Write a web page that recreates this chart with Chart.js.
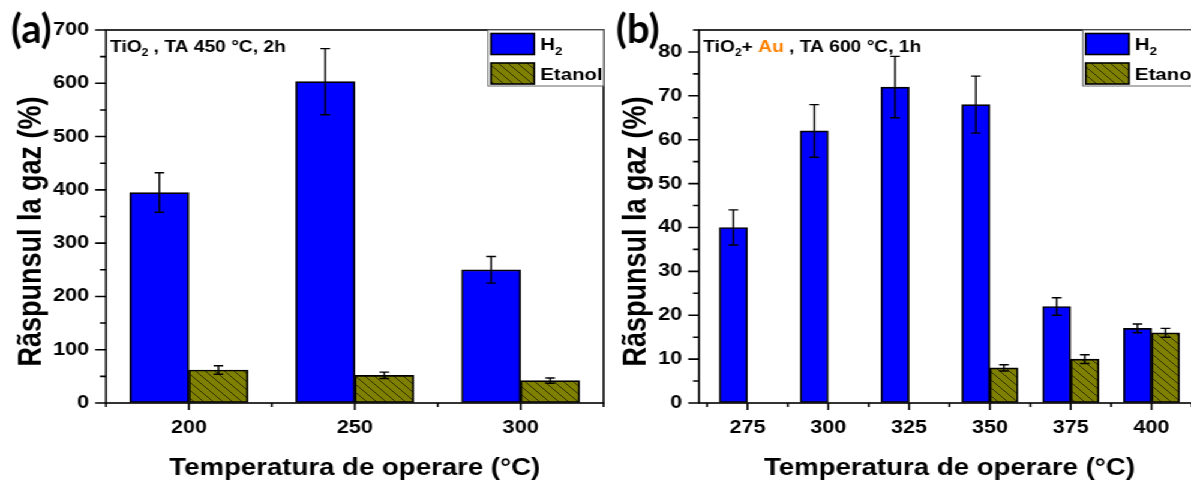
<!DOCTYPE html>
<html>
<head>
<meta charset="utf-8">
<script src="https://cdn.jsdelivr.net/npm/chart.js@4.4.0/dist/chart.umd.min.js"></script>
<style>
  html, body { margin: 0; padding: 0; background: #fff; overflow: hidden; width: 1191px; height: 484px; }
  #wrap { position: absolute; left: 0; top: 0; width: 1010px; height: 484px; transform: scaleX(1.2); transform-origin: 0 0; }
  #c1 { position: absolute; left: 0; top: 0; }
  #c2 { position: absolute; left: 510px; top: 0; }
</style>
</head>
<body>
<div id="wrap">
  <canvas id="c1" width="510" height="484"></canvas>
  <canvas id="c2" width="500" height="484"></canvas>
</div>
<script>
// panel (a): TiO2, TA 450 C, 2h
const tempA = [200, 250, 300];
const h2A = [395, 603, 250];
const h2ErrA = [37, 62, 25];
const etA = [62, 52, 42];
const etErrA = [8, 6, 5];
const yLabelsA = [0, 100, 200, 300, 400, 500, 600, 700];

// panel (b): TiO2 + Au, TA 600 C, 1h
const tempB = [275, 300, 325, 350, 375, 400];
const h2B = [40, 62, 72, 68, 22, 17];
const h2ErrB = [4, 6, 7, 6.5, 2, 1];
const etB = [null, null, null, 8, 10, 16];
const etErrB = [null, null, null, 0.7, 1, 1];
const yLabelsB = [0, 10, 20, 30, 40, 50, 60, 70, 80];

const seriesNames = ['H2', 'Etanol'];
const xTitle = 'Temperatura de operare (°C)';
const yTitle = 'Rãspunsul la gaz (%)';

const SX = 1.2; // the figure is stretched horizontally
const FONT = '"Liberation Sans", Arial, sans-serif';

function withMinor(vals) {
  // labelled ticks plus the unlabelled ones half a step before/after
  const step = vals[1] - vals[0];
  const out = [];
  vals.forEach(v => { out.push(v - step / 2, v); });
  out.push(vals[vals.length - 1] + step / 2);
  return out;
}

function hatch() {
  const c = document.createElement('canvas');
  c.width = 8; c.height = 8;
  const g = c.getContext('2d');
  g.fillStyle = '#808000';
  g.fillRect(0, 0, 8, 8);
  g.strokeStyle = '#1a1a00';
  g.lineWidth = 0.8;
  g.beginPath();
  g.moveTo(-2, -2); g.lineTo(10, 10);
  g.moveTo(-2, 6); g.lineTo(2, 10);
  g.moveTo(6, -2); g.lineTo(10, 2);
  g.stroke();
  return g.createPattern(c, 'repeat');
}
const etFill = hatch();

function drawRich(ctx, parts, x, y, size) {
  parts.forEach(p => {
    const fs = p.sub ? Math.round(size * 0.62) : size;
    ctx.font = 'bold ' + fs + 'px ' + FONT;
    ctx.fillStyle = p.color || '#000';
    ctx.textAlign = 'left';
    ctx.textBaseline = 'alphabetic';
    ctx.fillText(p.t, x, y + (p.sub ? size * 0.28 : 0));
    x += ctx.measureText(p.t).width;
  });
}

const decor = {
  id: 'decor',
  afterDatasetsDraw(chart, args, o) {
    const ctx = chart.ctx, ys = chart.scales.y;
    ctx.save();
    ctx.strokeStyle = '#000';
    ctx.lineWidth = 1.4;
    chart.data.datasets.forEach((ds, di) => {
      const meta = chart.getDatasetMeta(di);
      meta.data.forEach((bar, i) => {
        const v = ds.data[i].y, e = o.errs[di][i];
        if (v == null || e == null) return;
        const yt = ys.getPixelForValue(v + e), yb = ys.getPixelForValue(v - e);
        ctx.beginPath();
        ctx.moveTo(bar.x, yt); ctx.lineTo(bar.x, yb);
        ctx.moveTo(bar.x - 4, yt); ctx.lineTo(bar.x + 4, yt);
        ctx.moveTo(bar.x - 4, yb); ctx.lineTo(bar.x + 4, yb);
        ctx.stroke();
      });
    });
    ctx.restore();
  },
  afterDraw(chart, args, o) {
    const ctx = chart.ctx, ca = chart.chartArea;
    const xs = chart.scales.x, ys = chart.scales.y;
    ctx.save();
    ctx.strokeStyle = '#000';
    ctx.lineWidth = 1.6;
    ctx.strokeRect(ca.left, ca.top, ca.right - ca.left, ca.bottom - ca.top);

    // tick marks, long for labelled values
    ctx.beginPath();
    xs.ticks.forEach(t => {
      const px = xs.getPixelForValue(t.value);
      const len = o.xMajor.includes(t.value) ? 7 : 4;
      ctx.moveTo(px, ca.bottom); ctx.lineTo(px, ca.bottom + len);
    });
    ys.ticks.forEach(t => {
      const py = ys.getPixelForValue(t.value);
      const len = o.yMajor.includes(t.value) ? 9 : 5;
      ctx.moveTo(ca.left - len, py); ctx.lineTo(ca.left, py);
    });
    ctx.stroke();

    // legend box
    const lx = o.legendX;
    ctx.fillStyle = '#fff';
    ctx.fillRect(lx, ca.top, ca.right - lx, 56);
    ctx.strokeStyle = '#666';
    ctx.lineWidth = 1;
    ctx.strokeRect(lx, ca.top, ca.right - lx, 56);
    chart.data.datasets.forEach((ds, di) => {
      const sy = ca.top + 3.5 + di * 29.5;
      ctx.fillStyle = ds.backgroundColor;
      ctx.fillRect(lx + 2.5, sy, 36, 21);
      ctx.strokeStyle = '#000';
      ctx.lineWidth = 1.6;
      ctx.strokeRect(lx + 2.5, sy, 36, 21);
      const parts = di === 0 ? [{ t: 'H' }, { t: '2', sub: true }] : [{ t: ds.label }];
      drawRich(ctx, parts, lx + 43.5, ca.top + 20 + di * 30, 17);
    });

    // sample note in the corner
    drawRich(ctx, o.note, o.noteX, 51.5, 16);

    // panel letter, not stretched
    ctx.scale(1 / SX, 1);
    ctx.font = 'bold 40px Lato, "Open Sans", sans-serif';
    ctx.fillStyle = '#000';
    ctx.textAlign = 'left';
    ctx.textBaseline = 'alphabetic';
    ctx.fillText(o.tag, o.tagX, 43);
    ctx.restore();
  }
};

function makeChart(id, p) {
  const xMajor = p.temps;
  const yMajor = p.yLabels;
  const bold = size => ({ family: FONT, size: size, weight: 'bold' });
  return new Chart(document.getElementById(id), {
    type: 'bar',
    data: {
      datasets: [{
        label: seriesNames[0],
        data: p.temps.map((t, i) => ({ x: t, y: p.h2[i] })),
        backgroundColor: '#0000ff',
        borderColor: '#000',
        borderWidth: 1.7,
        borderSkipped: false,
        barThickness: p.barW
      }, {
        label: seriesNames[1],
        data: p.temps.map((t, i) => ({ x: t, y: p.et[i] })),
        backgroundColor: etFill,
        borderColor: '#000',
        borderWidth: 1.7,
        borderSkipped: false,
        barThickness: p.barW
      }]
    },
    options: {
      responsive: false,
      animation: false,
      layout: { padding: { left: 0, right: p.padR, top: 30, bottom: 0 } },
      plugins: {
        legend: { display: false },
        tooltip: { enabled: false },
        decor: {
          errs: [p.h2Err, p.etErr], xMajor: xMajor, yMajor: yMajor,
          legendX: p.legendX, note: p.note, noteX: p.noteX, tag: p.tag, tagX: p.tagX
        }
      },
      scales: {
        x: {
          type: 'linear',
          min: p.xMin,
          max: p.xMax,
          offset: false,
          afterBuildTicks: ax => { ax.ticks = withMinor(xMajor).map(v => ({ value: v })); },
          afterFit: ax => { ax.height = 81; },
          grid: { display: true, drawOnChartArea: false, offset: false, drawTicks: true, tickLength: 7, color: 'rgba(0,0,0,0)' },
          border: { display: false },
          ticks: {
            autoSkip: false, maxRotation: 0, padding: 7, color: '#000', font: bold(18),
            callback: v => xMajor.includes(v) ? String(v) : ''
          },
          title: { display: true, text: xTitle, color: '#000', font: bold(23), padding: { top: 0, bottom: 2 } }
        },
        y: {
          min: 0,
          max: p.yMax,
          afterBuildTicks: ax => {
            const vals = withMinor(yMajor).filter(v => v >= 0 && v <= p.yMax);
            ax.ticks = vals.map(v => ({ value: v }));
          },
          afterFit: ax => { ax.width = p.yW; },
          grid: { display: true, drawOnChartArea: false, drawTicks: true, tickLength: 9, color: 'rgba(0,0,0,0)' },
          border: { display: false },
          ticks: {
            autoSkip: false, padding: 5, color: '#000', font: bold(18),
            callback: v => yMajor.includes(v) ? String(v) : ''
          },
          title: { display: true, text: yTitle + '    ', color: '#000', font: bold(27), padding: { top: p.yTitlePad, bottom: 0 } }
        }
      }
    },
    plugins: [decor]
  });
}

makeChart('c1', {
  temps: tempA, h2: h2A, h2Err: h2ErrA, et: etA, etErr: etErrA, yLabels: yLabelsA,
  xMin: 175, xMax: 325, yMax: 700, barW: 49.2, yW: 88.3, padR: 5, yTitlePad: 10,
  legendX: 406.7, noteX: 91.7, tag: '(a)', tagX: 11,
  note: [{ t: 'TiO' }, { t: '2', sub: true }, { t: ' , TA 450 °C, 2h' }]
});

makeChart('c2', {
  temps: tempB, h2: h2B, h2Err: h2ErrB, et: etB, etErr: etErrB, yLabels: yLabelsB,
  xMin: 260, xMax: 415, yMax: 85, barW: 23.4, yW: 72.5, padR: 10, yTitlePad: 4.7,
  legendX: 392.3, noteX: 76.1, tag: '(b)', tagX: 4,
  note: [{ t: 'TiO' }, { t: '2', sub: true }, { t: '+ ' }, { t: 'Au', color: '#ff8000' }, { t: ' , TA 600 °C, 1h' }]
});
</script>
</body>
</html>
